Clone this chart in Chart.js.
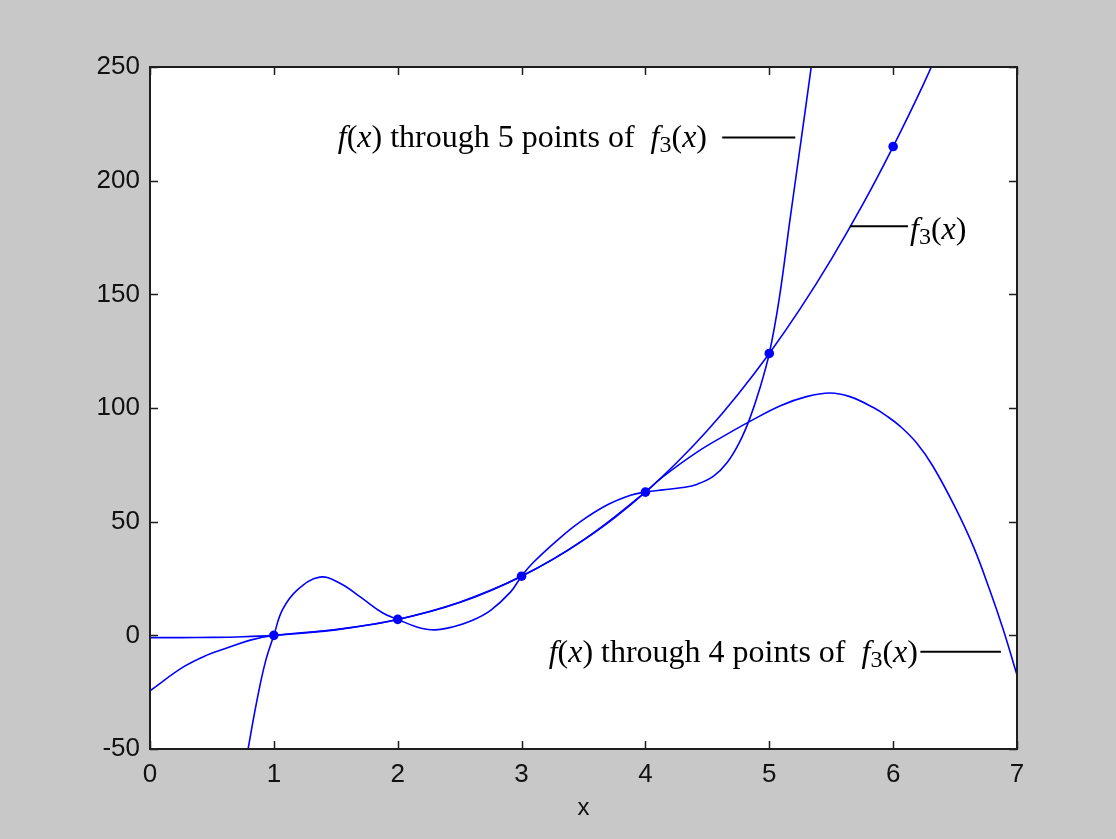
<!DOCTYPE html>
<html>
<head>
<meta charset="utf-8">
<script src="https://cdn.jsdelivr.net/npm/chart.js@4"></script>
<style>
html, body { margin: 0; padding: 0; background: #c8c8c8; }
canvas { display: block; }
</style>
</head>
<body>
<canvas id="plot" width="1116" height="839"></canvas>
<script>
// axis ticks
const xTicks = [0, 1, 2, 3, 4, 5, 6, 7];
const yTicks = [-50, 0, 50, 100, 150, 200, 250];

// f3(x)
const f3X = [0, 0.25, 0.5, 0.75, 1, 1.25, 1.5, 1.75, 2, 2.25, 2.5, 2.75, 3, 3.25, 3.5, 3.75, 4, 4.25, 4.5, 4.75, 5, 5.25, 5.5, 5.75, 6, 6.25, 6.5];
const f3Y = [-1, -1, -0.9, -0.6, 0, 1, 2.4, 4.4, 7, 10.4, 14.6, 19.8, 26, 33.3, 41.9, 51.7, 63, 75.8, 90.1, 106.2, 124, 143.7, 165.4, 189.1, 215, 243, 274];

// f(x) through 5 points of f3(x)
const fiveX = [0.75, 0.79, 0.86, 0.93, 1.0, 1.07, 1.19, 1.37, 1.53, 1.70, 1.88, 2.0, 2.16, 2.3, 2.45, 2.6, 2.75, 2.91, 3.0, 3.09, 3.29, 3.47, 3.69, 3.88, 4.0, 4.14, 4.3, 4.42, 4.55, 4.66, 4.76, 4.84, 4.92, 5.0, 5.08, 5.17, 5.26, 5.34, 5.4];
const fiveY = [-63, -50.6, -29.6, -12, 0, 11.3, 20, 25.6, 23, 16.8, 9.8, 7, 3.6, 2.4, 3.8, 6.5, 11, 19, 26, 31.8, 41.9, 49.8, 57.3, 61.6, 63, 64, 65, 66.5, 70, 76, 85, 95, 108, 124, 148, 184, 219, 250.6, 275];

// f(x) through 4 points of f3(x)
const fourX = [0, 0.27, 0.46, 0.62, 0.81, 1.0, 1.5, 2.0, 2.5, 3.0, 3.5, 4.0, 4.14, 4.42, 4.66, 4.84, 5.09, 5.30, 5.49, 5.65, 5.84, 5.95, 6.06, 6.19, 6.32, 6.5, 6.65, 6.78, 6.89, 7.0];
const fourY = [-24.4, -13.9, -8.7, -5.6, -2.1, 0, 2.6, 7, 14.4, 26, 42, 63, 69.7, 80.7, 88.5, 94, 101, 105, 106.6, 105, 100.2, 96.4, 91.8, 84.6, 74.5, 56.4, 38.8, 19.9, 2.3, -17.5];

// sample points of f3(x)
const markX = [1, 2, 3, 4, 5, 6];
const markY = [0, 7, 26, 63, 124, 215];

function pts(xs, ys) {
    return xs.map((x, i) => ({ x: x, y: ys[i] }));
}

const BLUE = "#0000ff";
const SERIF = '"Liberation Serif", "Times New Roman", serif';

// text pieces: [text, style]  style: n = normal, i = italic, s = subscript
const label5 = [["f", "i"], ["(", "n"], ["x", "i"], [") through 5 points of  ", "n"], ["f", "i"], ["3", "s"], ["(", "n"], ["x", "i"], [")", "n"]];
const label3 = [["f", "i"], ["3", "s"], ["(", "n"], ["x", "i"], [")", "n"]];
const label4 = [["f", "i"], ["(", "n"], ["x", "i"], [") through 4 points of  ", "n"], ["f", "i"], ["3", "s"], ["(", "n"], ["x", "i"], [")", "n"]];

const notes = [
    { parts: label5, align: "right", tx: 4.497, lx0: 4.62, lx1: 5.21, ly: 219, dy: 10 },
    { parts: label3, align: "left", tx: 6.136, lx0: 5.65, lx1: 6.12, ly: 180, dy: 13 },
    { parts: label4, align: "right", tx: 6.20, lx0: 6.22, lx1: 6.87, ly: -7.2, dy: 10 }
];

function fontFor(style) {
    if (style === "i") return "italic 32px " + SERIF;
    if (style === "s") return "24px " + SERIF;
    return "32px " + SERIF;
}

const framePlugin = {
    id: "frame",
    beforeDatasetsDraw(chart) {
        const a = chart.chartArea;
        chart.ctx.save();
        chart.ctx.fillStyle = "#ffffff";
        chart.ctx.fillRect(a.left, a.top, a.right - a.left, a.bottom - a.top);
        chart.ctx.restore();
    },
    afterDatasetsDraw(chart) {
        const ctx = chart.ctx;
        const a = chart.chartArea;
        const xs = chart.scales.x, ys = chart.scales.y;
        ctx.save();
        ctx.strokeStyle = "#1e1e1e";
        ctx.lineWidth = 1.5;
        // inward ticks on all four sides
        ctx.beginPath();
        xTicks.forEach(v => {
            const px = Math.round(xs.getPixelForValue(v)) + 0.5;
            ctx.moveTo(px, a.bottom); ctx.lineTo(px, a.bottom - 8);
            ctx.moveTo(px, a.top); ctx.lineTo(px, a.top + 8);
        });
        yTicks.forEach(v => {
            const py = Math.round(ys.getPixelForValue(v)) + 0.5;
            ctx.moveTo(a.left, py); ctx.lineTo(a.left + 8, py);
            ctx.moveTo(a.right, py); ctx.lineTo(a.right - 8, py);
        });
        ctx.stroke();
        ctx.lineWidth = 2;
        ctx.strokeRect(a.left, a.top, a.right - a.left, a.bottom - a.top);
        ctx.restore();
    },
    afterDraw(chart) {
        const ctx = chart.ctx;
        const xs = chart.scales.x, ys = chart.scales.y;
        ctx.save();
        ctx.fillStyle = "#000";
        ctx.strokeStyle = "#000";
        ctx.textBaseline = "alphabetic";
        ctx.textAlign = "left";
        notes.forEach(n => {
            const ly = ys.getPixelForValue(n.ly);
            ctx.lineWidth = 2;
            ctx.beginPath();
            ctx.moveTo(xs.getPixelForValue(n.lx0), ly);
            ctx.lineTo(xs.getPixelForValue(n.lx1), ly);
            ctx.stroke();

            let total = 0;
            n.parts.forEach(p => { ctx.font = fontFor(p[1]); total += ctx.measureText(p[0]).width; });
            let x = xs.getPixelForValue(n.tx);
            if (n.align === "right") x -= total;
            const base = ly + n.dy;
            n.parts.forEach(p => {
                ctx.font = fontFor(p[1]);
                ctx.fillText(p[0], x, p[1] === "s" ? base + 5 : base);
                x += ctx.measureText(p[0]).width;
            });
        });
        ctx.restore();
    }
};

const tickFont = { family: '"Liberation Sans", Arial, sans-serif', size: 26 };
const curve = { borderColor: BLUE, borderWidth: 1.6, pointRadius: 0, tension: 0.4, fill: false };

new Chart(document.getElementById("plot").getContext("2d"), {
    type: "line",
    data: {
        datasets: [
            Object.assign({ data: pts(f3X, f3Y) }, curve),
            Object.assign({ data: pts(fiveX, fiveY) }, curve),
            Object.assign({ data: pts(fourX, fourY) }, curve),
            { data: pts(markX, markY), showLine: false, pointRadius: 4.8, pointBackgroundColor: BLUE, pointBorderWidth: 0, borderColor: BLUE }
        ]
    },
    options: {
        responsive: false,
        animation: false,
        devicePixelRatio: 1,
        events: [],
        layout: { padding: { top: 67, right: 99, left: 0, bottom: 0 } },
        plugins: { legend: { display: false }, tooltip: { enabled: false } },
        scales: {
            x: {
                type: "linear",
                min: 0, max: 7,
                afterFit(s) { s.height = 90; },
                afterBuildTicks(s) { s.ticks = xTicks.map(v => ({ value: v })); },
                grid: { display: false, drawTicks: false },
                border: { display: false },
                ticks: { color: "#111", font: tickFont, padding: 10, maxRotation: 0 },
                title: { display: true, text: "x", color: "#111", font: { family: tickFont.family, size: 24 }, padding: { top: 2, bottom: 16 } }
            },
            y: {
                min: -50, max: 250,
                afterFit(s) { s.width = 150; },
                afterBuildTicks(s) { s.ticks = yTicks.map(v => ({ value: v })); },
                grid: { display: false, drawTicks: false },
                border: { display: false },
                ticks: { color: "#111", font: tickFont, padding: 10 }
            }
        }
    },
    plugins: [framePlugin]
});
</script>
</body>
</html>
